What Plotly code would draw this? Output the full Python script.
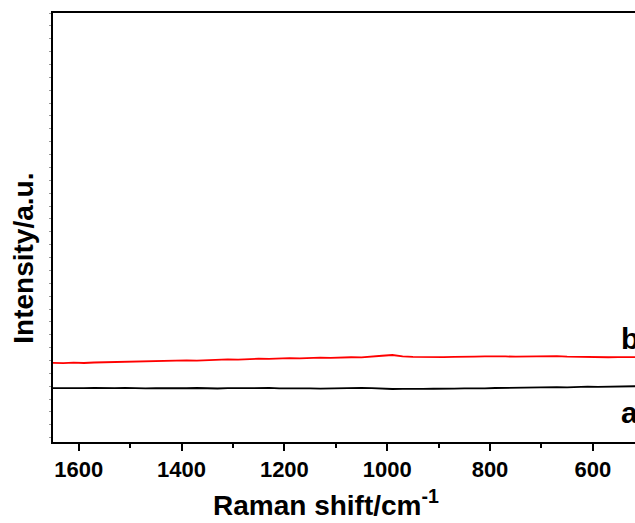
import plotly.graph_objects as go

# Raman shift grid (cm^-1)
shift = list(range(1650, 509, -20))

# Curve a (black) intensity, a.u.
intensity_a = [125.8, 125.2, 126.1, 125.4, 125.9, 125.0, 125.6, 126.2, 125.3, 124.8,
               125.7, 125.1, 124.6, 125.3, 125.9, 125.0, 124.7, 125.4, 125.8, 125.1,
               125.6, 126.0, 125.2, 125.7, 126.3, 125.1, 124.6, 125.2, 124.5, 125.3,
               126.2, 125.4, 124.3, 123.6, 123.9, 123.2, 123.7, 124.1, 123.5, 124.4,
               124.9, 124.3, 125.2, 125.9, 126.4, 126.0, 126.9, 127.4, 127.0, 127.8,
               127.2, 128.3, 129.0, 128.6, 129.3, 129.8, 129.5, 130.1]

# Curve b (red) intensity, a.u.
intensity_b = [184.5, 183.8, 184.9, 184.2, 185.3, 185.9, 186.8, 186.3, 187.6, 188.1,
               187.5, 189.0, 189.6, 190.4, 189.8, 191.2, 191.9, 192.6, 192.1, 193.5,
               194.2, 193.6, 195.0, 195.4, 194.9, 196.1, 196.5, 196.0, 197.2, 197.6,
               197.1, 198.4, 201.0, 202.8, 199.5, 198.2, 197.6, 198.3, 197.9, 198.6,
               198.1, 199.2, 199.6, 200.2, 199.4, 198.8, 199.3, 200.4, 201.1, 200.0,
               198.9, 198.2, 197.8, 198.4, 197.6, 198.0, 197.4, 197.9]

tick_vals = [1600, 1400, 1200, 1000, 800, 600]
tick_text = ["1600", "1400", "1200", "1000", "800", "600"]
curve_labels = ["a", "b"]

FONT = "Arial, Liberation Sans, sans-serif"

FIG_W, FIG_H = 635, 523
L, T, B = 52.5, 12.5, 442.0
W = FIG_W - L
H = B - T


def px(x):
    return (x - L) / W


def py(y):
    return (B - y) / H


fig = go.Figure()
fig.add_trace(go.Scatter(x=shift, y=intensity_a, mode="lines",
                         line=dict(color="black", width=1.8), showlegend=False))
fig.add_trace(go.Scatter(x=shift, y=intensity_b, mode="lines",
                         line=dict(color="#ff0000", width=1.8), showlegend=False))

fig.update_layout(
    width=FIG_W, height=FIG_H,
    margin=dict(l=L, r=0, t=T, b=FIG_H - B, pad=0),
    paper_bgcolor="white", plot_bgcolor="white",
    font=dict(family=FONT, color="black"),
    xaxis=dict(
        range=[1650, 518], tickvals=tick_vals, ticktext=tick_text,
        ticks="outside", ticklen=7, tickwidth=1.5, tickcolor="black",
        minor=dict(tickvals=[1500, 1300, 1100, 900, 700], ticks="outside",
                   ticklen=4, tickwidth=1.5, tickcolor="black"),
        showline=True, linecolor="black", linewidth=2, mirror=True,
        showgrid=False, zeroline=False,
        tickfont=dict(family=FONT, size=22, color="black", weight="bold"),
    ),
    yaxis=dict(
        range=[0, 1000], showticklabels=False,
        ticks="outside", ticklen=2, tickcolor="#999999", tickwidth=1,
        tick0=10, dtick=30,
        showline=True, linecolor="black", linewidth=2, mirror=False,
        showgrid=False, zeroline=False,
    ),
)

fig.add_annotation(text="Raman shift/cm<sup>-1</sup>", xref="paper", yref="paper",
                   x=px(326), y=py(503),
                   xanchor="center", yanchor="middle", showarrow=False,
                   font=dict(family=FONT, size=28, color="black", weight="bold"))
fig.add_annotation(text="Intensity/a.u.", xref="paper", yref="paper",
                   x=px(23), y=py(258), textangle=-90,
                   xanchor="center", yanchor="middle", showarrow=False,
                   font=dict(family=FONT, size=28, color="black", weight="bold"))

fig.add_annotation(text=curve_labels[1], xref="paper", yref="paper",
                   x=px(619), y=py(338),
                   xanchor="left", yanchor="middle", showarrow=False,
                   font=dict(family=FONT, size=30, color="black", weight="bold"))
fig.add_annotation(text=curve_labels[0], xref="paper", yref="paper",
                   x=px(619), y=py(412),
                   xanchor="left", yanchor="middle", showarrow=False,
                   font=dict(family=FONT, size=30, color="black", weight="bold"))

fig.write_html("out.html",
               config={"displayModeBar": False},
               post_script="document.body.style.margin='0';document.body.style.overflow='hidden';")
